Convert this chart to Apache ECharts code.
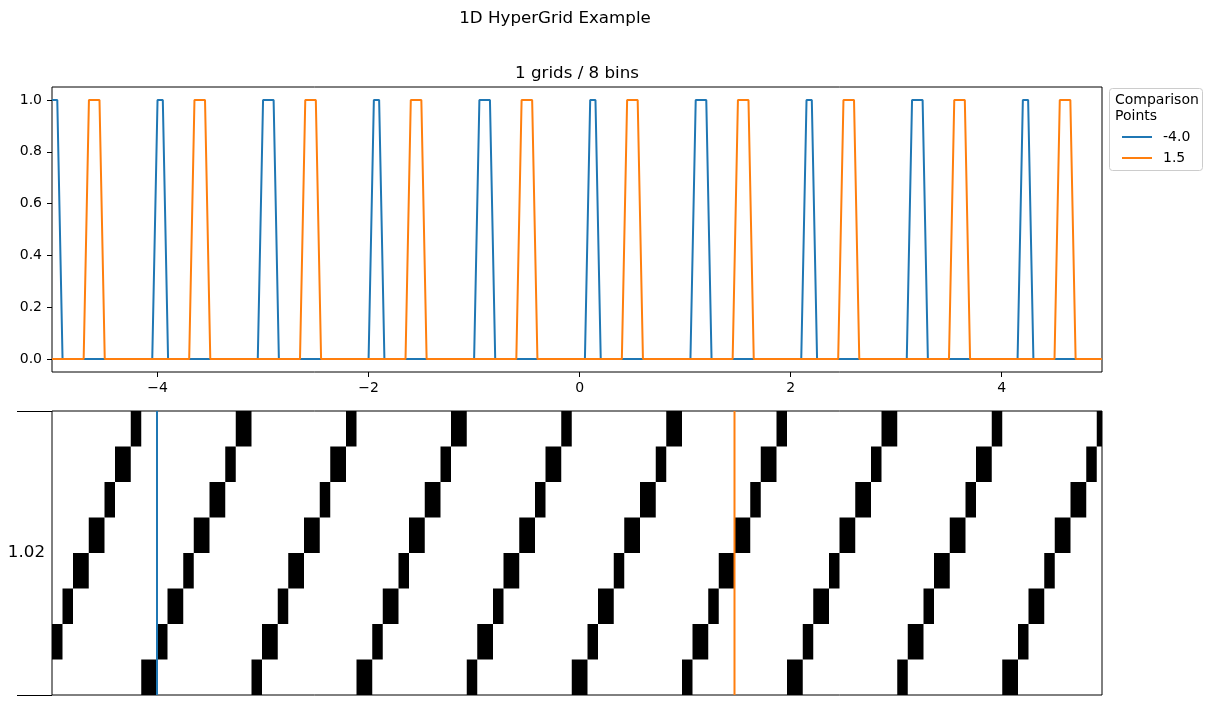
<!DOCTYPE html>
<html>
<head>
<meta charset="utf-8">
<script src="https://cdn.jsdelivr.net/npm/echarts@6/dist/echarts.min.js"></script>
<style>
html, body { margin: 0; padding: 0; background: #fff; }
#container { width: 1218px; height: 711px; }
</style>
</head>
<body>
<div id="container"></div>
<script>
// sampling of the 1D input (x = xStart + i * xStep)
const xStart = -5;
const xStep = 0.05;
const nSamples = 200;

// comparison points
const pointNames = ['-4.0', '1.5'];
const pointValues = [-4.0, 1.5];
const pointColors = ['#1f77b4', '#ff7f0e'];

// active bin (row 0 = bottom) of every sample column
const binRow = (
    '11223334445566677000' +
    '11222334445556677700' +
    '111223334445566677000' +
    '11222334445556677700' +
    '111223334445566677000' +
    '11222334445556677700' +
    '111223334445566677000' +
    '11222334445556677700' +
    '111223334445566677000' +
    '1122233444555667'
).split('').map(Number);

// sample columns where the similarity to each comparison point is 1
const blueHits = [0, 1, 20, 21, 40, 41, 42, 61, 62, 81, 82, 83, 102, 103,
    122, 123, 124, 143, 144, 163, 164, 165, 184, 185];
const orangeHits = [7, 8, 9, 27, 28, 29, 48, 49, 50, 68, 69, 70, 89, 90, 91,
    109, 110, 111, 130, 131, 132, 150, 151, 152, 171, 172, 173, 191, 192, 193];

const xTicks = [-4, -2, 0, 2, 4];
const yTicks = [0, 0.2, 0.4, 0.6, 0.8, 1.0];
const nBins = 8;
const binTickLabel = '1.02';

const font = 'DejaVu Sans';

let xs = [];
for (let i = 0; i < nSamples; i++) {
    xs.push(+(xStart + i * xStep).toFixed(2));
}

function similarity(hits) {
    return xs.map((x, i) => [x, hits.includes(i) ? 1 : 0]);
}

// merge neighbouring columns of the same bin into one rectangle
let cells = [];
binRow.forEach((r, i) => {
    let last = cells[cells.length - 1];
    if (last && last[2] === r && last[3] === i - 1) {
        last[1] = xs[i] + xStep;
        last[3] = i;
    } else {
        cells.push([xs[i], xs[i] + xStep, r, i]);
    }
});

let dom = document.getElementById('container');
let chart = echarts.init(dom);

chart.setOption({
    animation: false,
    backgroundColor: '#fff',
    textStyle: { fontFamily: font },
    title: [{
        text: '1D HyperGrid Example',
        left: 555,
        top: 9,
        textAlign: 'center',
        padding: 0,
        textStyle: { fontFamily: font, fontSize: 16.7, fontWeight: 'normal', color: '#000', lineHeight: 20 }
    }, {
        text: '1 grids / 8 bins',
        left: 577,
        top: 64,
        textAlign: 'center',
        padding: 0,
        textStyle: { fontFamily: font, fontSize: 16.7, fontWeight: 'normal', color: '#000', lineHeight: 20 }
    }, {
        // legend frame with its title
        text: 'Comparison\nPoints',
        left: 1109,
        top: 88,
        padding: [4, 4, 47, 6],
        borderColor: '#cccccc',
        borderWidth: 1,
        borderRadius: 3,
        textStyle: { fontFamily: font, fontSize: 14, fontWeight: 'normal', color: '#000', lineHeight: 16 }
    }],
    legend: {
        data: pointNames,
        orient: 'vertical',
        left: 1122,
        top: 130,
        padding: 0,
        icon: 'rect',
        itemWidth: 30,
        itemHeight: 2,
        itemGap: 7,
        textStyle: { fontFamily: font, fontSize: 14, color: '#000', lineHeight: 14, padding: [0, 0, 0, 6] }
    },
    grid: [
        { left: 52, top: 87, width: 1050, height: 285, show: true, borderColor: '#000', borderWidth: 1 },
        { left: 52, top: 411, width: 1050, height: 284, show: true, borderColor: '#000', borderWidth: 1 }
    ],
    xAxis: [{
        type: 'value',
        gridIndex: 0,
        position: 'bottom',
        min: xStart,
        max: xs[nSamples - 1],
        axisLine: { show: false, onZero: false },
        splitLine: { show: false },
        axisTick: { show: true, length: 5, customValues: xTicks, lineStyle: { color: '#000' } },
        axisLabel: {
            customValues: xTicks,
            margin: 9,
            fontSize: 14,
            color: '#000',
            fontFamily: font,
            formatter: (v) => (v < 0 ? '\u2212' : '') + Math.abs(v)
        }
    }, {
        type: 'value',
        gridIndex: 1,
        min: xStart,
        max: xStart + nSamples * xStep,
        axisLine: { show: false, onZero: false },
        splitLine: { show: false },
        axisTick: { show: false },
        axisLabel: { show: false }
    }],
    yAxis: [{
        type: 'value',
        gridIndex: 0,
        position: 'left',
        min: -0.05,
        max: 1.05,
        axisLine: { show: false, onZero: false },
        splitLine: { show: false },
        axisTick: { show: true, length: 5, customValues: yTicks, lineStyle: { color: '#000' } },
        axisLabel: {
            customValues: yTicks,
            margin: 10,
            fontSize: 14,
            color: '#000',
            fontFamily: font,
            formatter: (v) => v.toFixed(1)
        }
    }, {
        type: 'value',
        gridIndex: 1,
        position: 'left',
        min: 0,
        max: nBins,
        axisLine: { show: false, onZero: false },
        splitLine: { show: false },
        axisTick: { show: true, length: 35, customValues: [0, nBins], lineStyle: { color: '#000' } },
        axisLabel: {
            customValues: [nBins / 2],
            margin: 7,
            fontSize: 16.7,
            color: '#000',
            fontFamily: font,
            padding: [5, 0, 0, 0],
            formatter: () => binTickLabel
        }
    }],
    series: [{
        name: pointNames[0],
        type: 'line',
        xAxisIndex: 0,
        yAxisIndex: 0,
        showSymbol: false,
        color: pointColors[0],
        lineStyle: { width: 2 },
        data: similarity(blueHits)
    }, {
        name: pointNames[1],
        type: 'line',
        xAxisIndex: 0,
        yAxisIndex: 0,
        showSymbol: false,
        color: pointColors[1],
        lineStyle: { width: 2 },
        data: similarity(orangeHits)
    }, {
        name: 'bins',
        type: 'custom',
        xAxisIndex: 1,
        yAxisIndex: 1,
        encode: { x: [0, 1], y: 2 },
        renderItem: (params, api) => {
            let p0 = api.coord([api.value(0), api.value(2) + 1]);
            let p1 = api.coord([api.value(1), api.value(2)]);
            return {
                type: 'rect',
                shape: { x: p0[0], y: p0[1], width: p1[0] - p0[0], height: p1[1] - p0[1] },
                style: { fill: '#000' }
            };
        },
        data: cells
    }, {
        name: pointNames[0],
        type: 'line',
        xAxisIndex: 1,
        yAxisIndex: 1,
        showSymbol: false,
        color: pointColors[0],
        lineStyle: { width: 2 },
        data: [[pointValues[0], 0], [pointValues[0], nBins]]
    }, {
        name: pointNames[1],
        type: 'line',
        xAxisIndex: 1,
        yAxisIndex: 1,
        showSymbol: false,
        color: pointColors[1],
        lineStyle: { width: 2 },
        data: [[pointValues[1], 0], [pointValues[1], nBins]]
    }]
});
</script>
</body>
</html>
